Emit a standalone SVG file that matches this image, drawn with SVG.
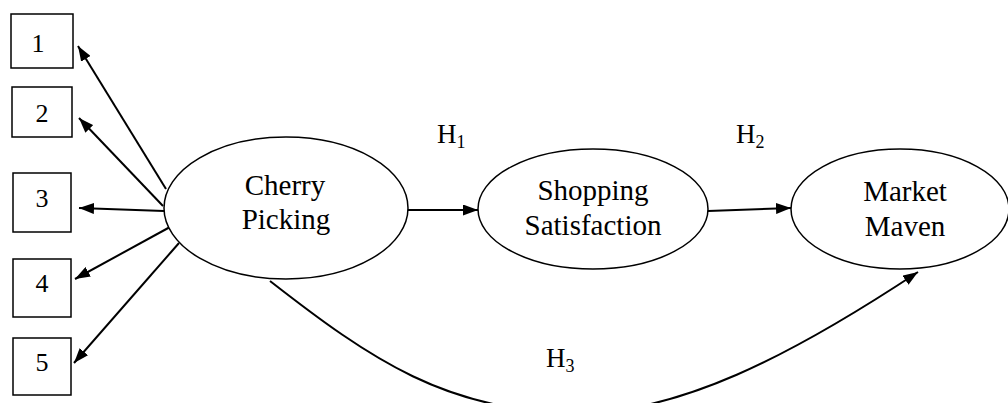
<svg xmlns="http://www.w3.org/2000/svg" width="1008" height="403" viewBox="0 0 1008 403">
<style>
.box{fill:#fff;stroke:#000;stroke-width:1.5}
.ell{fill:#fff;stroke:#000;stroke-width:1.5}
.lbl{font-family:"Liberation Serif","Times New Roman",serif;font-size:29px;fill:#000;text-anchor:middle}
.num{font-family:"Liberation Serif","Times New Roman",serif;font-size:26px;fill:#000;text-anchor:middle}
.h{font-family:"Liberation Serif","Times New Roman",serif;font-size:27px;fill:#000}
.sub{font-size:18px}
.con{fill:none;stroke:#000;stroke-width:2;marker-end:url(#ah)}
</style>
<defs>
<marker id="ah" viewBox="0 0 15 11" refX="15" refY="5.5" markerWidth="15" markerHeight="11" markerUnits="userSpaceOnUse" orient="auto">
<path d="M0,0 L15,5.5 L0,11 z" fill="#000"/>
</marker>
</defs>
<rect width="1008" height="403" fill="#fff"/>
<g id="connectors">
<line class="con" x1="166" y1="189" x2="78" y2="46"/>
<line class="con" x1="163" y1="206" x2="79" y2="118"/>
<line class="con" x1="164" y1="211" x2="79" y2="208"/>
<line class="con" x1="170" y1="227" x2="75" y2="279"/>
<line class="con" x1="179" y1="243" x2="74" y2="363"/>
<line class="con" x1="408" y1="210" x2="478" y2="210"/>
<line class="con" x1="708" y1="211" x2="791" y2="208"/>
<path class="con" d="M270,281 C370,359 448,413 578,413 C678,413 788,358 918,272"/>
</g>
<g id="box1"><rect class="box" x="11" y="14" width="62" height="54"/><text class="num" x="38" y="52">1</text></g>
<g id="box2"><rect class="box" x="12" y="87" width="60" height="50"/><text class="num" x="42" y="122">2</text></g>
<g id="box3"><rect class="box" x="13" y="173" width="58" height="59"/><text class="num" x="42" y="207">3</text></g>
<g id="box4"><rect class="box" x="13" y="259" width="58" height="58"/><text class="num" x="42" y="292">4</text></g>
<g id="box5"><rect class="box" x="13" y="338" width="58" height="57"/><text class="num" x="42" y="371">5</text></g>
<g id="cherry"><ellipse class="ell" cx="286" cy="208" rx="122" ry="71"/><text class="lbl" x="285" y="195">Cherry</text><text class="lbl" x="286" y="229">Picking</text></g>
<g id="shopping"><ellipse class="ell" cx="593" cy="209" rx="115" ry="60"/><text class="lbl" x="593" y="200">Shopping</text><text class="lbl" x="593" y="235">Satisfaction</text></g>
<g id="maven"><ellipse class="ell" cx="900" cy="209" rx="109" ry="60"/><text class="lbl" x="905" y="201">Market</text><text class="lbl" x="905" y="236">Maven</text></g>
<g id="hypotheses">
<text class="h" x="437" y="143">H<tspan class="sub" dy="5">1</tspan></text>
<text class="h" x="736" y="143">H<tspan class="sub" dy="5">2</tspan></text>
<text class="h" x="546" y="367">H<tspan class="sub" dy="5">3</tspan></text>
</g>
</svg>
